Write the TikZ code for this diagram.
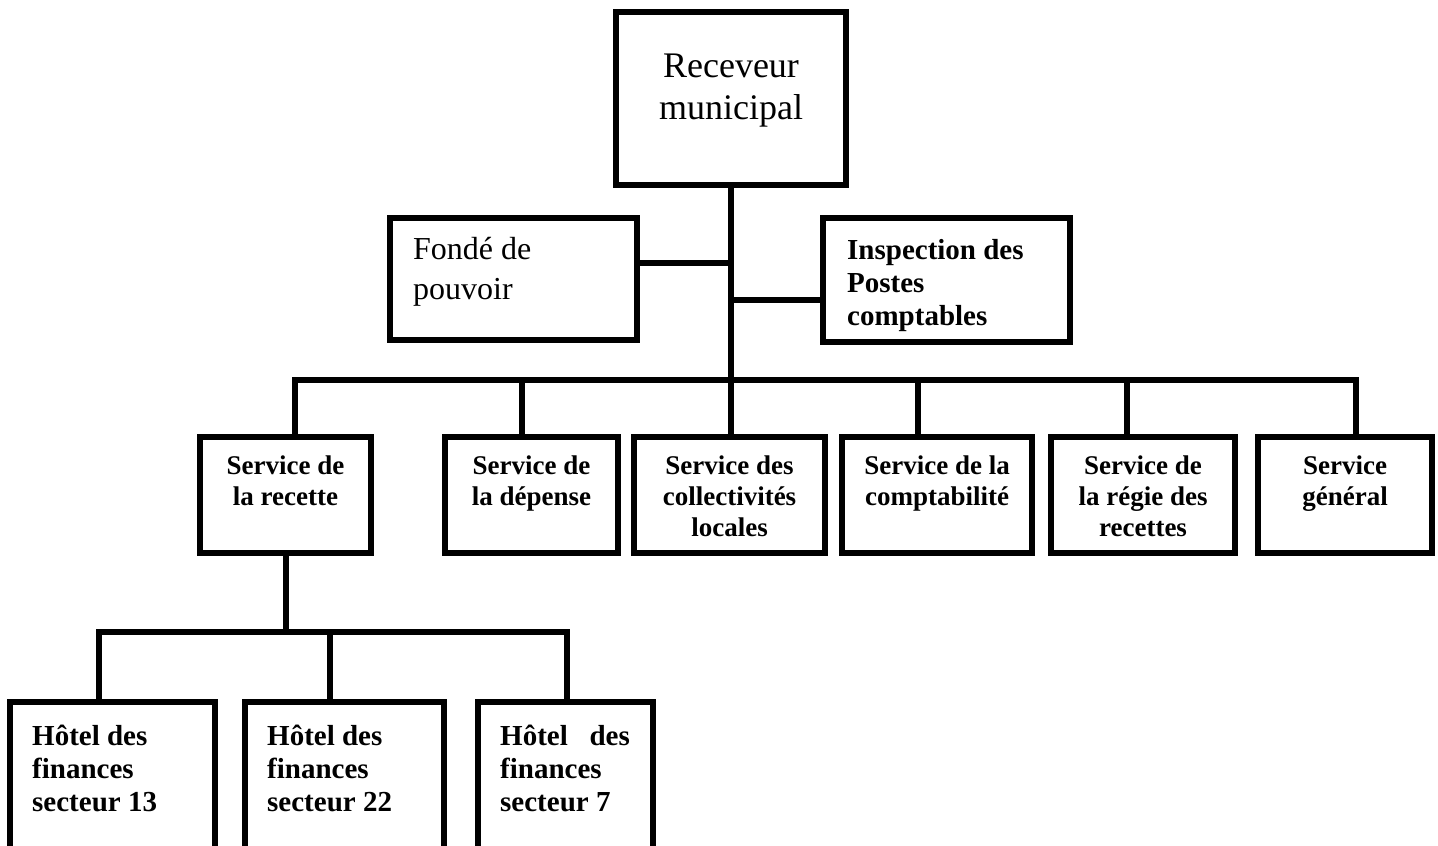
\documentclass[tikz,border=0pt]{standalone}
\usepackage{fontspec}
\setmainfont{Liberation Serif}

\begin{document}
\begin{tikzpicture}[x=1pt, y=-1pt,
  box/.style={draw, line width=6pt, inner sep=0pt, outer sep=0pt, anchor=north west},
  link/.style={line width=6pt, line cap=rect},
  chieftxt/.style={font=\fontsize{36}{42}\selectfont, align=center, inner sep=0pt, anchor=north},
  lefttxt/.style={font=\fontsize{32}{40}\selectfont, align=left, inner sep=0pt, anchor=north west},
  boldtxt/.style={font=\bfseries\fontsize{29}{33}\selectfont, align=left, inner sep=0pt, anchor=north west},
  srvtxt/.style={font=\bfseries\fontsize{27}{31}\selectfont, align=center, inner sep=0pt, anchor=north}]
\useasboundingbox (0,0) rectangle (1438,846);
\clip (0,0) rectangle (1438,846);

\node (rm) at (616,12) [box, minimum width=230pt, minimum height=173pt] {};
\node (fp) at (390,218) [box, minimum width=247pt, minimum height=122pt] {};
\node (ipc) at (823,218) [box, minimum width=247pt, minimum height=124pt] {};

\node (srec) at (200,437) [box, minimum width=171pt, minimum height=116pt] {};
\node (sdep) at (445,437) [box, minimum width=173pt, minimum height=116pt] {};
\node (scol) at (634,437) [box, minimum width=191pt, minimum height=116pt] {};
\node (scpt) at (842,437) [box, minimum width=190pt, minimum height=116pt] {};
\node (sreg) at (1051,437) [box, minimum width=184pt, minimum height=116pt] {};
\node (sgen) at (1258,437) [box, minimum width=174pt, minimum height=116pt] {};

\node (hf13) at (10,702) [box, minimum width=205pt, minimum height=200pt] {};
\node (hf22) at (245,702) [box, minimum width=199pt, minimum height=200pt] {};
\node (hf7) at (478,702) [box, minimum width=175pt, minimum height=200pt] {};

\node (rmtxt) at (731,54) [chieftxt] {Receveur\\municipal};
\node (fptxt) at (413,237) [lefttxt] {Fondé de\\pouvoir};
\node (ipctxt) at (847,239) [boldtxt] {Inspection des\\Postes\\comptables};

\node (srectxt) at ([yshift=-19pt]srec.north) [srvtxt] {Service de\\la recette};
\node (sdeptxt) at ([yshift=-19pt]sdep.north) [srvtxt] {Service de\\la dépense};
\node (scoltxt) at ([yshift=-19pt]scol.north) [srvtxt] {Service des\\collectivités\\locales};
\node (scpttxt) at ([yshift=-19pt]scpt.north) [srvtxt] {Service de la\\comptabilité};
\node (sregtxt) at ([yshift=-19pt]sreg.north) [srvtxt] {Service de\\la régie des\\recettes};
\node (sgentxt) at ([yshift=-19pt]sgen.north) [srvtxt] {Service\\général};

\node (hf13txt) at ([shift={(22pt,-23pt)}]hf13.north west) [boldtxt] {Hôtel des\\finances\\secteur 13};
\node (hf22txt) at ([shift={(22pt,-23pt)}]hf22.north west) [boldtxt] {Hôtel des\\finances\\secteur 22};
\node (hf7txt) at ([shift={(22pt,-23pt)}]hf7.north west) [boldtxt] {Hôtel\ \ \ des\\finances\\secteur 7};

\coordinate (jfp) at (731,263);
\coordinate (jipc) at (731,300);
\coordinate (d1) at (295,380);
\coordinate (d2) at (522,380);
\coordinate (d3) at (731,380);
\coordinate (d4) at (918,380);
\coordinate (d5) at (1127,380);
\coordinate (d6) at (1356,380);
\coordinate (g1) at (99,632);
\coordinate (g2) at (330,632);
\coordinate (g3) at (567,632);

\draw[link] (rm.south) -- (d3);
\draw[link] (fp.east |- jfp) -- (jfp);
\draw[link] (jipc) -- (jipc -| ipc.west);
\draw[link] (d1) -- (d6);
\draw[link] (d1) -- (d1 |- srec.north);
\draw[link] (d2) -- (d2 |- sdep.north);
\draw[link] (d3) -- (d3 |- scol.north);
\draw[link] (d4) -- (d4 |- scpt.north);
\draw[link] (d5) -- (d5 |- sreg.north);
\draw[link] (d6) -- (d6 |- sgen.north);
\draw[link] (srec.south) -- (srec.south |- g1);
\draw[link] (g1) -- (g3);
\draw[link] (g1) -- (g1 |- hf13.north);
\draw[link] (g2) -- (g2 |- hf22.north);
\draw[link] (g3) -- (g3 |- hf7.north);
\end{tikzpicture}
\end{document}
